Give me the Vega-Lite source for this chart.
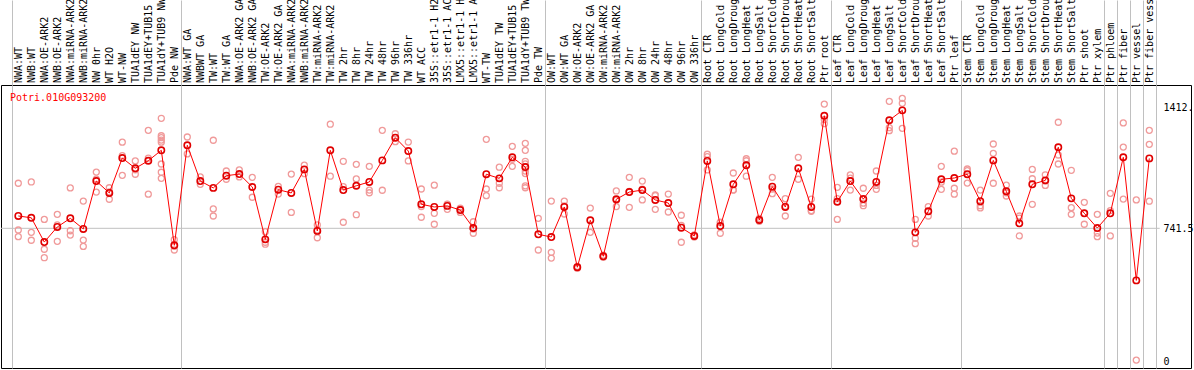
{
  "$schema": "https://vega.github.io/schema/vega-lite/v6.json",
  "width": 1190,
  "height": 283,
  "autosize": {"type": "none"},
  "padding": {"left": 1, "top": 85, "right": 3, "bottom": 2},
  "background": "white",
  "config": {"view": {"stroke": "#000000", "strokeWidth": 1}, "font": "DejaVu Sans Mono"},
  "title": {"text": "Potri.010G093200", "color": "#ff0000", "font": "DejaVu Sans Mono", "fontSize": 10, "fontWeight": "normal", "anchor": "start", "frame": "group", "orient": "top", "baseline": "top", "offset": -104, "dx": 9},
  "datasets": {
    "means": [
      {"i": 1, "label": "NWA:WT", "v": 810}, {"i": 2, "label": "NWB:WT", "v": 800}, {"i": 3, "label": "NWA:OE-ARK2", "v": 665}, {"i": 4, "label": "NWB:OE-ARK2", "v": 749},
      {"i": 5, "label": "NWA:miRNA-ARK2", "v": 797}, {"i": 6, "label": "NWB:miRNA-ARK2", "v": 738}, {"i": 7, "label": "NW 0hr", "v": 1004}, {"i": 8, "label": "WT H2O", "v": 938},
      {"i": 9, "label": "WT-NW", "v": 1132}, {"i": 10, "label": "TUA1dEY NW", "v": 1075}, {"i": 11, "label": "TUA1dEY+TUB15", "v": 1117}, {"i": 12, "label": "TUA1dY+TUB9 NW", "v": 1175},
      {"i": 13, "label": "Pde NW", "v": 647}, {"i": 14, "label": "NWA:WT GA", "v": 1203}, {"i": 15, "label": "NWBWT GA", "v": 1004}, {"i": 16, "label": "TW:WT", "v": 966},
      {"i": 17, "label": "TW:WT GA", "v": 1034}, {"i": 18, "label": "NWA:OE-ARK2 GA", "v": 1043}, {"i": 19, "label": "NWB:OE-ARK2 GA", "v": 971}, {"i": 20, "label": "TW:OE-ARK2", "v": 680},
      {"i": 21, "label": "TW:OE-ARK2 GA", "v": 956}, {"i": 22, "label": "NWA:miRNA-ARK2", "v": 938}, {"i": 23, "label": "NWB:miRNA-ARK2", "v": 1069}, {"i": 24, "label": "TW:miRNA-ARK2", "v": 727},
      {"i": 25, "label": "TW:miRNA-ARK2", "v": 1175}, {"i": 26, "label": "TW 2hr", "v": 954}, {"i": 27, "label": "TW 8hr", "v": 978}, {"i": 28, "label": "TW 24hr", "v": 999},
      {"i": 29, "label": "TW 48hr", "v": 1119}, {"i": 30, "label": "TW 96hr", "v": 1245}, {"i": 31, "label": "TW 336hr", "v": 1171}, {"i": 32, "label": "WT ACC", "v": 875},
      {"i": 33, "label": "35S::etr1-1 H2", "v": 860}, {"i": 34, "label": "35S::etr1-1 AC", "v": 866}, {"i": 35, "label": "LMX5::etr1-1 H", "v": 843}, {"i": 36, "label": "LMX5::etr1-1 A", "v": 743},
      {"i": 37, "label": "WT-TW", "v": 1042}, {"i": 38, "label": "TUA1dEY TW", "v": 1019}, {"i": 39, "label": "TUA1dEY+TUB15", "v": 1136}, {"i": 40, "label": "TUA1dY+TUB9 TW", "v": 1082},
      {"i": 41, "label": "Pde TW", "v": 708}, {"i": 42, "label": "OW:WT", "v": 693}, {"i": 43, "label": "OW:WT GA", "v": 860}, {"i": 44, "label": "OW:OE-ARK2", "v": 525},
      {"i": 45, "label": "OW:OE-ARK2 GA", "v": 786}, {"i": 46, "label": "OW:miRNA-ARK2", "v": 586}, {"i": 47, "label": "OW:miRNA-ARK2", "v": 903}, {"i": 48, "label": "OW 2hr", "v": 943},
      {"i": 49, "label": "OW 8hr", "v": 954}, {"i": 50, "label": "OW 24hr", "v": 899}, {"i": 51, "label": "OW 48hr", "v": 882}, {"i": 52, "label": "OW 96hr", "v": 745},
      {"i": 53, "label": "OW 336hr", "v": 699}, {"i": 54, "label": "Root CTR", "v": 1116}, {"i": 55, "label": "Root LongCold", "v": 754}, {"i": 56, "label": "Root LongDroug", "v": 986},
      {"i": 57, "label": "Root LongHeat", "v": 1092}, {"i": 58, "label": "Root LongSalt", "v": 788}, {"i": 59, "label": "Root ShortCold", "v": 973}, {"i": 60, "label": "Root ShortDrou", "v": 860},
      {"i": 61, "label": "Root ShortHeat", "v": 1075}, {"i": 62, "label": "Root ShortSalt", "v": 860}, {"i": 63, "label": "Ptr root", "v": 1367}, {"i": 64, "label": "Leaf CTR", "v": 889},
      {"i": 65, "label": "Leaf LongCold", "v": 1004}, {"i": 66, "label": "Leaf LongDroug", "v": 904}, {"i": 67, "label": "Leaf LongHeat", "v": 999}, {"i": 68, "label": "Leaf LongSalt", "v": 1342},
      {"i": 69, "label": "Leaf ShortCold", "v": 1397}, {"i": 70, "label": "Leaf ShortDrou", "v": 719}, {"i": 71, "label": "Leaf ShortHeat", "v": 836}, {"i": 72, "label": "Leaf ShortSalt", "v": 1014},
      {"i": 73, "label": "Ptr leaf", "v": 1021}, {"i": 74, "label": "Stem CTR", "v": 1042}, {"i": 75, "label": "Stem LongCold", "v": 892}, {"i": 76, "label": "Stem LongDroug", "v": 1119},
      {"i": 77, "label": "Stem LongHeat", "v": 947}, {"i": 78, "label": "Stem LongSalt", "v": 769}, {"i": 79, "label": "Stem ShortCold", "v": 986}, {"i": 80, "label": "Stem ShortDrou", "v": 1008},
      {"i": 81, "label": "Stem ShortHeat", "v": 1192}, {"i": 82, "label": "Stem ShortSalt", "v": 908}, {"i": 83, "label": "Ptr shoot", "v": 825}, {"i": 84, "label": "Ptr xylem", "v": 743},
      {"i": 85, "label": "Ptr phloem", "v": 825}, {"i": 86, "label": "Ptr fiber", "v": 1136}, {"i": 87, "label": "Ptr vessel", "v": 452}, {"i": 88, "label": "Ptr fiber vess", "v": 1130}
    ],
    "reps": [
      {"i": 1, "v": 992}, {"i": 1, "v": 732}, {"i": 1, "v": 695},
      {"i": 2, "v": 999}, {"i": 2, "v": 719}, {"i": 2, "v": 675},
      {"i": 3, "v": 791}, {"i": 3, "v": 625}, {"i": 3, "v": 578},
      {"i": 4, "v": 819}, {"i": 4, "v": 669}, {"i": 4, "v": 760},
      {"i": 5, "v": 966}, {"i": 5, "v": 728}, {"i": 5, "v": 704},
      {"i": 6, "v": 893}, {"i": 6, "v": 676}, {"i": 6, "v": 641},
      {"i": 7, "v": 1054}, {"i": 7, "v": 943}, {"i": 7, "v": 1015},
      {"i": 8, "v": 967}, {"i": 8, "v": 903}, {"i": 8, "v": 944},
      {"i": 9, "v": 1220}, {"i": 9, "v": 1145}, {"i": 9, "v": 1036},
      {"i": 10, "v": 1116}, {"i": 10, "v": 1042}, {"i": 10, "v": 1067},
      {"i": 11, "v": 1286}, {"i": 11, "v": 1131}, {"i": 11, "v": 931},
      {"i": 12, "v": 1353}, {"i": 12, "v": 1256}, {"i": 12, "v": 1245}, {"i": 12, "v": 1232}, {"i": 12, "v": 1220}, {"i": 12, "v": 1099}, {"i": 12, "v": 1053}, {"i": 12, "v": 1019},
      {"i": 13, "v": 678}, {"i": 13, "v": 621}, {"i": 13, "v": 642},
      {"i": 14, "v": 1249}, {"i": 14, "v": 1155},
      {"i": 15, "v": 1027}, {"i": 15, "v": 986},
      {"i": 16, "v": 1231}, {"i": 16, "v": 849}, {"i": 16, "v": 810},
      {"i": 17, "v": 1060}, {"i": 17, "v": 1014},
      {"i": 18, "v": 1066}, {"i": 18, "v": 1027},
      {"i": 19, "v": 1025}, {"i": 19, "v": 914},
      {"i": 20, "v": 723}, {"i": 20, "v": 653}, {"i": 20, "v": 664},
      {"i": 21, "v": 975}, {"i": 21, "v": 932},
      {"i": 22, "v": 1043}, {"i": 22, "v": 830},
      {"i": 23, "v": 1093}, {"i": 23, "v": 1045},
      {"i": 24, "v": 760}, {"i": 24, "v": 689}, {"i": 24, "v": 732},
      {"i": 25, "v": 1320}, {"i": 25, "v": 1031},
      {"i": 26, "v": 1114}, {"i": 26, "v": 973}, {"i": 26, "v": 775},
      {"i": 27, "v": 1097}, {"i": 27, "v": 1016}, {"i": 27, "v": 817},
      {"i": 28, "v": 1086}, {"i": 28, "v": 954}, {"i": 28, "v": 939},
      {"i": 29, "v": 1286}, {"i": 29, "v": 953},
      {"i": 30, "v": 1267}, {"i": 30, "v": 1245}, {"i": 30, "v": 1223},
      {"i": 31, "v": 1221}, {"i": 31, "v": 1116},
      {"i": 32, "v": 960}, {"i": 32, "v": 862}, {"i": 32, "v": 803},
      {"i": 33, "v": 981}, {"i": 33, "v": 825}, {"i": 33, "v": 764},
      {"i": 34, "v": 875}, {"i": 34, "v": 847}, {"i": 34, "v": 876},
      {"i": 35, "v": 853}, {"i": 35, "v": 830}, {"i": 35, "v": 846},
      {"i": 36, "v": 778}, {"i": 36, "v": 714}, {"i": 36, "v": 737},
      {"i": 37, "v": 1236}, {"i": 37, "v": 960}, {"i": 37, "v": 923},
      {"i": 38, "v": 1081}, {"i": 38, "v": 992}, {"i": 38, "v": 967},
      {"i": 39, "v": 1197}, {"i": 39, "v": 1086}, {"i": 39, "v": 1125},
      {"i": 40, "v": 1214}, {"i": 40, "v": 1175}, {"i": 40, "v": 1114}, {"i": 40, "v": 1060}, {"i": 40, "v": 977}, {"i": 40, "v": 967}, {"i": 40, "v": 1100}, {"i": 40, "v": 1046},
      {"i": 41, "v": 797}, {"i": 41, "v": 621},
      {"i": 42, "v": 893}, {"i": 42, "v": 608}, {"i": 42, "v": 576},
      {"i": 43, "v": 893}, {"i": 43, "v": 821}, {"i": 43, "v": 866},
      {"i": 44, "v": 525}, {"i": 44, "v": 520}, {"i": 44, "v": 530},
      {"i": 45, "v": 854}, {"i": 45, "v": 719},
      {"i": 46, "v": 586}, {"i": 46, "v": 580}, {"i": 46, "v": 592},
      {"i": 47, "v": 949}, {"i": 47, "v": 862}, {"i": 47, "v": 898},
      {"i": 48, "v": 1025}, {"i": 48, "v": 858}, {"i": 48, "v": 946},
      {"i": 49, "v": 1004}, {"i": 49, "v": 899}, {"i": 49, "v": 959},
      {"i": 50, "v": 923}, {"i": 50, "v": 847}, {"i": 50, "v": 927},
      {"i": 51, "v": 932}, {"i": 51, "v": 832},
      {"i": 52, "v": 814}, {"i": 52, "v": 664}, {"i": 52, "v": 757},
      {"i": 53, "v": 699}, {"i": 53, "v": 705}, {"i": 53, "v": 693},
      {"i": 54, "v": 1153}, {"i": 54, "v": 1140}, {"i": 54, "v": 1066},
      {"i": 55, "v": 775}, {"i": 55, "v": 714}, {"i": 55, "v": 773},
      {"i": 56, "v": 1049}, {"i": 56, "v": 954}, {"i": 56, "v": 955},
      {"i": 57, "v": 1128}, {"i": 57, "v": 1117}, {"i": 57, "v": 1031},
      {"i": 58, "v": 797}, {"i": 58, "v": 780}, {"i": 58, "v": 787},
      {"i": 59, "v": 1025}, {"i": 59, "v": 934}, {"i": 59, "v": 960},
      {"i": 60, "v": 906}, {"i": 60, "v": 810}, {"i": 60, "v": 864},
      {"i": 61, "v": 1136}, {"i": 61, "v": 1014},
      {"i": 62, "v": 904}, {"i": 62, "v": 836}, {"i": 62, "v": 840},
      {"i": 63, "v": 1432}, {"i": 63, "v": 1323}, {"i": 63, "v": 1346},
      {"i": 64, "v": 969}, {"i": 64, "v": 906}, {"i": 64, "v": 791},
      {"i": 65, "v": 1038}, {"i": 65, "v": 954}, {"i": 65, "v": 1020},
      {"i": 66, "v": 964}, {"i": 66, "v": 867}, {"i": 66, "v": 881},
      {"i": 67, "v": 1060}, {"i": 67, "v": 958}, {"i": 67, "v": 980},
      {"i": 68, "v": 1447}, {"i": 68, "v": 1301}, {"i": 68, "v": 1284},
      {"i": 69, "v": 1464}, {"i": 69, "v": 1436}, {"i": 69, "v": 1297},
      {"i": 70, "v": 791}, {"i": 70, "v": 686}, {"i": 70, "v": 656},
      {"i": 71, "v": 862}, {"i": 71, "v": 810},
      {"i": 72, "v": 1086}, {"i": 72, "v": 958}, {"i": 72, "v": 998},
      {"i": 73, "v": 1170}, {"i": 73, "v": 964}, {"i": 73, "v": 931},
      {"i": 74, "v": 1071}, {"i": 74, "v": 993}, {"i": 74, "v": 1062},
      {"i": 75, "v": 954}, {"i": 75, "v": 867}, {"i": 75, "v": 855},
      {"i": 76, "v": 1210}, {"i": 76, "v": 1158}, {"i": 76, "v": 992},
      {"i": 77, "v": 981}, {"i": 77, "v": 921}, {"i": 77, "v": 939},
      {"i": 78, "v": 810}, {"i": 78, "v": 699}, {"i": 78, "v": 798},
      {"i": 79, "v": 1069}, {"i": 79, "v": 1017}, {"i": 79, "v": 875},
      {"i": 80, "v": 1039}, {"i": 80, "v": 980}, {"i": 80, "v": 1005},
      {"i": 81, "v": 1331}, {"i": 81, "v": 1149}, {"i": 81, "v": 1099},
      {"i": 82, "v": 1064}, {"i": 82, "v": 856}, {"i": 82, "v": 819},
      {"i": 83, "v": 886}, {"i": 83, "v": 825}, {"i": 83, "v": 764},
      {"i": 84, "v": 819}, {"i": 84, "v": 715}, {"i": 84, "v": 695},
      {"i": 85, "v": 936}, {"i": 85, "v": 840}, {"i": 85, "v": 699},
      {"i": 86, "v": 1327}, {"i": 86, "v": 1193}, {"i": 86, "v": 904},
      {"i": 87, "v": 899}, {"i": 87, "v": 9},
      {"i": 88, "v": 1286}, {"i": 88, "v": 1208}, {"i": 88, "v": 892}
    ]
  },
  "layer": [
    {
      "data": {"values": [{"ref": 741.5}]},
      "mark": {"type": "rule", "color": "#c0c0c0", "strokeWidth": 1},
      "encoding": {
        "x": {"datum": -0.33, "type": "quantitative", "scale": {"domain": [-0.331, 91.208], "nice": false, "zero": false},
          "axis": {"orient": "top", "values": [0.5, 13.5, 41.5, 53.5, 63.5, 73.5, 84.5, 85.5, 86.5, 87.5, 88.5], "grid": true, "gridColor": "#c0c0c0", "gridWidth": 1, "gridOpacity": 1, "ticks": true, "tickSize": 85, "tickColor": "#c0c0c0", "tickWidth": 1, "labels": false, "domain": false, "title": null}},
        "x2": {"datum": 88.8},
        "y": {"field": "ref", "type": "quantitative", "scale": {"domain": [-35, 1538], "nice": false, "zero": false},
          "axis": {"orient": "right", "offset": -35, "values": [0, 741.5, 1412], "labelExpr": "datum.value == 0 ? '0' : (datum.value == 741.5 ? '741.5' : '1412.')", "grid": false, "ticks": false, "tickSize": 0, "domain": false, "labelPadding": 7, "labelFont": "DejaVu Sans Mono", "labelFontSize": 10, "labelColor": "#000000", "labelAlign": "left", "labelBaseline": "middle", "title": null}}
      }
    },
    {
      "data": {"name": "reps"},
      "mark": {"type": "point", "shape": "circle", "filled": false, "color": "#f09a9a", "strokeWidth": 1.3, "size": 36, "opacity": 1},
      "encoding": {
        "x": {"field": "i", "type": "quantitative"},
        "y": {"field": "v", "type": "quantitative"}
      }
    },
    {
      "data": {"name": "means"},
      "mark": {"type": "line", "color": "#ff0000", "strokeWidth": 1},
      "encoding": {
        "x": {"field": "i", "type": "quantitative"},
        "y": {"field": "v", "type": "quantitative"}
      }
    },
    {
      "data": {"name": "means"},
      "mark": {"type": "point", "shape": "circle", "filled": false, "color": "#e00000", "strokeWidth": 1.6, "size": 40, "opacity": 1},
      "encoding": {
        "x": {"field": "i", "type": "quantitative"},
        "y": {"field": "v", "type": "quantitative"}
      }
    },
    {
      "data": {"name": "means"},
      "mark": {"type": "text", "angle": 270, "align": "left", "baseline": "middle", "dx": 2, "dy": 1, "font": "DejaVu Sans Mono", "fontSize": 10, "color": "#000000"},
      "encoding": {
        "x": {"field": "i", "type": "quantitative"},
        "y": {"datum": 1538, "type": "quantitative"},
        "text": {"field": "label"}
      }
    }
  ]
}
